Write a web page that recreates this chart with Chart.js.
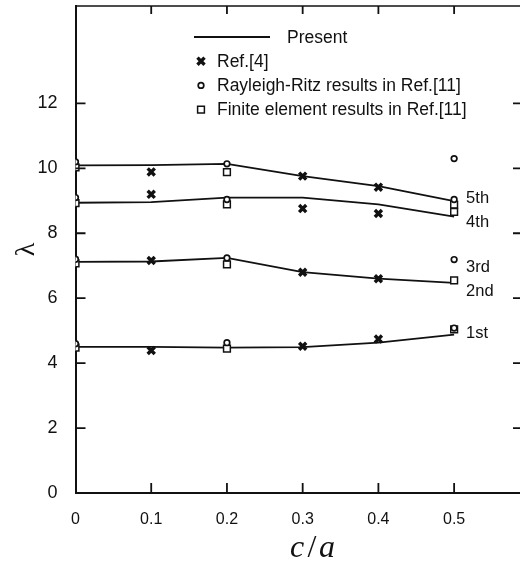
<!DOCTYPE html>
<html>
<head>
<meta charset="utf-8">
<script src="https://cdn.jsdelivr.net/npm/chart.js@4.4.1/dist/chart.umd.min.js"></script>
<style>
  html, body { margin: 0; padding: 0; background: #ffffff; }
  #wrap { width: 520px; height: 567px; position: relative; }
</style>
</head>
<body>
<div id="wrap"><canvas id="c" width="520" height="567"></canvas></div>
<script>
// ---------------- data ----------------
const xTicks = [0, 0.1, 0.2, 0.3, 0.4, 0.5];
const yTicks = [0, 2, 4, 6, 8, 10, 12];

// Present results (solid lines)
const presentX  = [0, 0.1, 0.2, 0.3, 0.4, 0.5];
const present1  = [4.50, 4.50, 4.48, 4.49, 4.63, 4.88];
const present23 = [7.12, 7.13, 7.24, 6.80, 6.60, 6.47];
const present4  = [8.94, 8.96, 9.10, 9.10, 8.89, 8.51];
const present5  = [10.09, 10.10, 10.14, 9.76, 9.45, 8.99];

// Ref.[4] (crosses)
const refX     = [0.1, 0.3, 0.4];
const ref1     = [4.39, 4.52, 4.74];
const ref23    = [7.16, 6.80, 6.60];
const ref4m    = [9.20, 8.76, 8.61];
const ref5m    = [9.89, 9.76, 9.42];

// Rayleigh-Ritz results in Ref.[11] (circles)
const rrX      = [0, 0.2, 0.5];
const rr1      = [4.60, 4.63, 5.08];
const rr23     = [7.20, 7.24, 7.19];
const rr4      = [9.10, 9.04, 9.04];
const rr5      = [10.20, 10.14, 10.30];

// Finite element results in Ref.[11] (squares)
const feX      = [0, 0.2, 0.5];
const fe1      = [4.48, 4.45, 5.04];
const fe23     = [7.07, 7.04, 6.55];
const fe4      = [8.93, 8.89, 8.66];
const fe5      = [10.03, 9.88, 8.88];

// mode labels next to the curves
const modeLabels = ['5th', '4th', '3rd', '2nd', '1st'];
const modeLabelY = [9.07, 8.33, 6.94, 6.20, 4.90];
const modeLabelX = 0.5;

const legendTexts = ['Present', 'Ref.[4]', 'Rayleigh-Ritz results in Ref.[11]', 'Finite element results in Ref.[11]'];

// ---------------- helpers ----------------
function pts(xs, ys) { return xs.map((x, i) => ({ x: x, y: ys[i] })); }

const FONT = '"Liberation Sans", Arial, Helvetica, sans-serif';

const lineStyle = { showLine: true, borderColor: '#111', borderWidth: 1.8, pointRadius: 0, pointHoverRadius: 0, fill: false, tension: 0 };
const crossStyle = { showLine: false, pointStyle: 'crossRot', pointRadius: 5, borderColor: '#111', borderWidth: 3.4, backgroundColor: '#111' };
const circleStyle = { showLine: false, pointStyle: 'circle', pointRadius: 2.8, borderColor: '#111', borderWidth: 1.7, backgroundColor: '#fff' };
const squareStyle = { showLine: false, pointStyle: 'rect', pointRadius: 4.8, borderColor: '#111', borderWidth: 1.5, backgroundColor: '#fff' };

const datasets = [];
[present1, present23, present4, present5].forEach(d => datasets.push(Object.assign({ label: 'Present', data: pts(presentX, d), order: 10 }, lineStyle)));
[fe1, fe23, fe4, fe5].forEach(d => datasets.push(Object.assign({ label: 'FE', data: pts(feX, d), order: 5 }, squareStyle)));
[rr1, rr23, rr4, rr5].forEach(d => datasets.push(Object.assign({ label: 'RR', data: pts(rrX, d), order: 4 }, circleStyle)));
[ref1, ref23, ref4m, ref5m].forEach(d => datasets.push(Object.assign({ label: 'Ref4', data: pts(refX, d), order: 3 }, crossStyle)));

function drawMarker(ctx, style, x, y) {
  ctx.save();
  ctx.strokeStyle = style.borderColor;
  ctx.fillStyle = style.backgroundColor;
  ctx.lineWidth = style.borderWidth;
  const r = style.pointRadius;
  ctx.beginPath();
  if (style.pointStyle === 'circle') {
    ctx.arc(x, y, r, 0, Math.PI * 2);
    ctx.fill(); ctx.stroke();
  } else if (style.pointStyle === 'rect') {
    const s = r * Math.SQRT1_2;
    ctx.rect(x - s, y - s, 2 * s, 2 * s);
    ctx.fill(); ctx.stroke();
  } else {
    const s = r * Math.SQRT1_2;
    ctx.moveTo(x - s, y - s); ctx.lineTo(x + s, y + s);
    ctx.moveTo(x + s, y - s); ctx.lineTo(x - s, y + s);
    ctx.stroke();
  }
  ctx.restore();
}

const decor = {
  id: 'decor',
  afterDraw(chart) {
    const ctx = chart.ctx;
    const a = chart.chartArea;
    const xs = chart.scales.x, ys = chart.scales.y;
    ctx.save();
    ctx.strokeStyle = '#111';
    // top frame
    ctx.lineWidth = 1.6;
    ctx.beginPath(); ctx.moveTo(a.left, a.top); ctx.lineTo(a.right, a.top); ctx.stroke();
    // inward ticks
    ctx.lineWidth = 1.8;
    ctx.beginPath();
    xTicks.forEach(v => {
      if (v === 0) return;
      const px = xs.getPixelForValue(v);
      ctx.moveTo(px, a.bottom); ctx.lineTo(px, a.bottom - 10);
      ctx.moveTo(px, a.top); ctx.lineTo(px, a.top + 8);
    });
    yTicks.forEach(v => {
      if (v === 0) return;
      const py = ys.getPixelForValue(v);
      ctx.moveTo(a.left, py); ctx.lineTo(a.left + 10, py);
      ctx.moveTo(a.right, py); ctx.lineTo(a.right - 7, py);
    });
    ctx.stroke();

    // mode labels
    ctx.fillStyle = '#111';
    ctx.font = '16.5px ' + FONT;
    ctx.textAlign = 'left';
    ctx.textBaseline = 'middle';
    modeLabels.forEach((t, i) => {
      ctx.fillText(t, xs.getPixelForValue(modeLabelX) + 12, ys.getPixelForValue(modeLabelY[i]));
    });

    // legend
    ctx.font = '17.5px ' + FONT;
    const lx = 194, ly = 37, rowH = 24.2;
    ctx.lineWidth = 1.8;
    ctx.beginPath(); ctx.moveTo(lx, ly); ctx.lineTo(lx + 76, ly); ctx.stroke();
    ctx.fillText(legendTexts[0], 287, ly + 1);
    drawMarker(ctx, crossStyle, 201, ly + rowH * 1);
    drawMarker(ctx, circleStyle, 201, ly + rowH * 2);
    drawMarker(ctx, squareStyle, 201, ly + rowH * 3);
    for (let i = 1; i < 4; i++) ctx.fillText(legendTexts[i], 217, ly + rowH * i + 1);

    // x title
    const serif = '"Liberation Serif", "Times New Roman", serif';
    ctx.textAlign = 'center';
    ctx.font = 'italic 32px ' + serif;
    ctx.fillText('c', 297, 549);
    ctx.font = '32px ' + serif;
    ctx.fillText('/', 312, 549);
    ctx.font = 'italic 32px ' + serif;
    ctx.fillText('a', 327, 549);
    ctx.restore();
  }
};

new Chart(document.getElementById('c'), {
  type: 'scatter',
  data: { datasets: datasets },
  options: {
    responsive: false,
    animation: false,
    devicePixelRatio: 1,
    layout: { autoPadding: false, padding: { left: 0, right: 0, top: 6, bottom: 0 } },
    plugins: { legend: { display: false }, tooltip: { enabled: false } },
    scales: {
      x: {
        type: 'linear', min: 0, max: 0.587,
        afterBuildTicks: s => { s.ticks = xTicks.map(v => ({ value: v })); },
        afterFit: s => { s.height = 74; s.paddingLeft = 0; s.paddingRight = 0; },
        grid: { display: false, drawTicks: false },
        border: { display: true, color: '#111', width: 2 },
        ticks: { color: '#111', font: { family: FONT, size: 16 }, padding: 17, maxRotation: 0,
                 callback: v => (v === 0 ? '0' : v.toFixed(1)) },
        title: { display: false }
      },
      y: {
        type: 'linear', min: 0, max: 15,
        afterBuildTicks: s => { s.ticks = yTicks.map(v => ({ value: v })); },
        afterFit: s => { s.width = 75.5; s.paddingTop = 0; s.paddingBottom = 0; },
        grid: { display: false, drawTicks: false },
        border: { display: true, color: '#111', width: 2 },
        ticks: { color: '#111', font: { family: FONT, size: 18 }, padding: 18 },
        title: { display: true, text: 'λ', color: '#111',
                 font: { family: '"Liberation Serif", serif', size: 28, lineHeight: 1.2 },
                 padding: { top: 10, bottom: 0 } }
      }
    }
  },
  plugins: [decor]
});
</script>
</body>
</html>
